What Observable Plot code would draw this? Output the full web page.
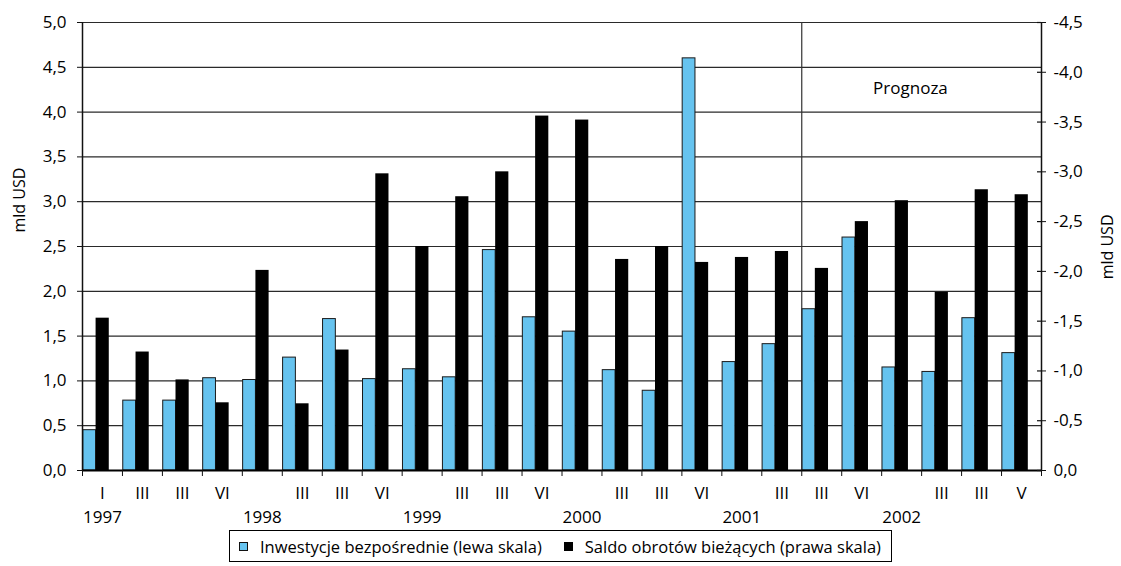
<!DOCTYPE html>
<html>
<head>
<meta charset="utf-8">
<script src="https://cdn.jsdelivr.net/npm/d3@7"></script>
<script src="https://cdn.jsdelivr.net/npm/@observablehq/plot@0.6"></script>
<style>
  body { margin: 0; background: #fff; font-family: "Open Sans", sans-serif; }
  #chart { width: 1121px; }
  #chart svg { display: block; }
  .legend-wrap { width: 1121px; text-align: center; margin-top: 0; }
  .legend {
    display: inline-flex; align-items: center; border: 1px solid #000;
    height: 30px; padding: 0 10px 0 9px; font-size: 16.5px; color: #000;
  }
  .sw { width: 9px; height: 9px; display: inline-block; margin-right: 12px; box-sizing: border-box; }
  .sw.blue { background: #66c3ef; border: 1px solid #111; }
  .sw.black { background: #000; margin-left: 22px; }
</style>
</head>
<body>
<div id="chart"></div>
<div class="legend-wrap">
  <div class="legend">
    <span class="sw blue"></span><span>Inwestycje bezpośrednie (lewa skala)</span>
    <span class="sw black"></span><span>Saldo obrotów bieżących (prawa skala)</span>
  </div>
</div>
<script>
// Quarterly data 1997–2002, mld USD
const periodLabels = ["I","III","III","VI","","III","III","VI","","III","III","VI","","III","III","VI","","III","III","VI","","III","III","V"];
const yearLabels   = ["1997","","","","1998","","","","1999","","","","2000","","","","2001","","","","2002","","",""];

// Direct investment (left scale)
const investment = [0.45, 0.78, 0.78, 1.03, 1.01, 1.26, 1.69, 1.02, 1.13, 1.04, 2.46, 1.71,
                    1.55, 1.12, 0.89, 4.60, 1.21, 1.41, 1.80, 2.60, 1.15, 1.10, 1.70, 1.31];
// Current account balance (right scale, inverted)
const currentAccount = [-1.53, -1.19, -0.91, -0.68, -2.01, -0.67, -1.21, -2.98, -2.25, -2.75, -3.00, -3.56,
                        -3.52, -2.12, -2.25, -2.09, -2.14, -2.20, -2.03, -2.50, -2.71, -1.79, -2.82, -2.77];

const leftTicks = [0, 0.5, 1, 1.5, 2, 2.5, 3, 3.5, 4, 4.5, 5];
const rightTicks = [0, -0.5, -1, -1.5, -2, -2.5, -3, -3.5, -4, -4.5];
const forecastStart = 18;   // first forecast quarter index
const forecastLabel = "Prognoza";

// right axis maps 0..-4.5 onto left 0..5
const ratio = 5 / 4.5;
const toLeft = v => -v * ratio;
const comma = v => (Math.round(v * 10) / 10).toFixed(1).replace(".", ",").replace("-0,0", "0,0");

const n = investment.length;
const rows = d3.range(n).map(i => ({
  i, inv: investment[i], ca: currentAccount[i], period: periodLabels[i], year: yearLabels[i]
}));

const font = "Open Sans";

const chart = Plot.plot({
  width: 1121,
  height: 530,
  marginLeft: 82,
  marginRight: 80,
  marginTop: 22,
  marginBottom: 60,
  style: { fontFamily: font, fontSize: "17px", color: "#000", background: "#fff" },
  x: { type: "linear", domain: [0, n] },
  y: { domain: [0, 5] },
  marks: [
    Plot.ruleY(leftTicks.filter(t => t > 0), { stroke: "#2a2a2a", strokeWidth: 1.2 }),
    Plot.ruleX([forecastStart], { y1: 0, y2: 5, stroke: "#333", strokeWidth: 1.2 }),
    Plot.rect(rows, {
      x1: d => d.i + 0.02, x2: d => d.i + 0.34, y1: 0, y2: d => d.inv,
      fill: "#66c3ef", stroke: "#1a1a1a", strokeWidth: 1
    }),
    Plot.rect(rows, {
      x1: d => d.i + 0.34, x2: d => d.i + 0.67, y1: 0, y2: d => toLeft(d.ca),
      fill: "#000"
    }),
    Plot.ruleX([0, n], { y1: 0, y2: 5, stroke: "#111", strokeWidth: 1.5 }),
    Plot.ruleY([0], { stroke: "#000", strokeWidth: 2 }),
    // left axis
    Plot.axisY({
      ticks: leftTicks, tickFormat: comma, tickSize: 5, tickPadding: 11,
      label: null, fontSize: 17, stroke: "#111"
    }),
    // right axis
    Plot.axisY({
      anchor: "right", ticks: rightTicks.map(toLeft), tickFormat: v => comma(-v / ratio),
      tickSize: 4, tickPadding: 8, label: null, fontSize: 17, stroke: "#111"
    }),
    Plot.ruleY(rightTicks.map(toLeft), { x1: n, x2: n, insetLeft: -4, stroke: "#111", strokeWidth: 1.2 }),
    // bottom ticks at quarter boundaries
    Plot.axisX({ ticks: d3.range(0, n + 1), tickFormat: () => "", tickSize: 6, stroke: "#111", label: null }),
    Plot.text(rows, { x: d => d.i + 0.5, y: 0, text: "period", dy: 23, fontSize: 17 }),
    Plot.text(rows, { x: d => d.i + 0.5, y: 0, text: "year", dy: 47, fontSize: 17 }),
    Plot.text([forecastLabel], { x: 20.72, y: 4.26, fontSize: 17 }),
    Plot.text(["mld USD"], { frameAnchor: "left", dx: -63, dy: -14, rotate: -90, fontSize: 16 }),
    Plot.text(["mld USD"], { frameAnchor: "right", dx: 66, dy: -32, rotate: -90, fontSize: 16 })
  ]
});

document.getElementById("chart").append(chart);
</script>
</body>
</html>
